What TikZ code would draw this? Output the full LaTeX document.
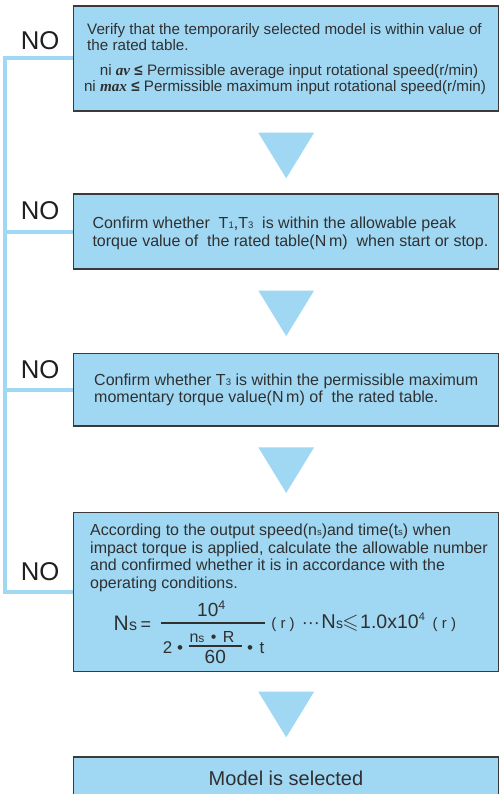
\documentclass[tikz,border=0pt]{standalone}
\usepackage{fontspec}
\usepackage{amssymb}
\setmainfont{Liberation Sans}
\newfontfamily\tnr{Liberation Serif}
\definecolor{boxblue}{RGB}{160,216,244}
\definecolor{bordergray}{RGB}{58,58,58}
\definecolor{txt}{RGB}{48,48,48}
\newcommand{\fs}[1]{\fontsize{#1}{#1}\selectfont}
\newcommand{\sbs}[1]{{\fontsize{9.5}{9.5}\selectfont #1}}
\begin{document}
\begin{tikzpicture}[x=1pt,y=-1pt,
  flowbox/.style={draw=bordergray, line width=1.6pt, fill=boxblue, minimum width=425pt, inner sep=0pt},
  noline/.style={draw=boxblue, line width=4pt},
  nolabel/.style={anchor=base west, inner sep=0pt, font=\fs{25.7}, text=black!88},
  para/.style={anchor=base west, inner sep=0pt, text=txt},
  fm/.style={anchor=base west, inner sep=0pt, text=txt},
  downtri/.pic={\fill[boxblue] (-27.9,0) -- (27.9,0) -- (0,45.6) -- cycle;}
]
\clip (0,0) rectangle (500,794);
\fill[white] (0,0) rectangle (500,794);

% boxes
\node[flowbox, minimum height=105.1pt] (b1) at (286,58.35) {};
\node[flowbox, minimum height=75.1pt] (b2) at (286,231.65) {};
\node[flowbox, minimum height=72.4pt] (b3) at (286,389.7) {};
\node[flowbox, minimum height=159pt] (b4) at (286,592) {};
\node[flowbox, minimum height=73.2pt] (b5) at (286,793.4) {};

% NO feedback lines
\coordinate (c1) at (5.3,58.35);
\coordinate (c2) at (5.3,231.65);
\coordinate (c3) at (5.3,389.7);
\coordinate (c4) at (5.3,592);
\draw[noline] (b1.west) -- (c1) -- (c4) -- (b4.west);
\draw[noline] (b2.west) -- (c2);
\draw[noline] (b3.west) -- (c3);

% NO labels
\node[nolabel] (no1) at (20.7,50) {NO};
\node[nolabel] (no2) at (20.7,219.3) {NO};
\node[nolabel] (no3) at (20.7,378.3) {NO};
\node[nolabel] (no4) at (20.7,580) {NO};

% down triangles
\pic at (286.2,132.7) {downtri};
\pic at (286.2,290.5) {downtri};
\pic at (286.2,447.3) {downtri};
\pic at (286.2,691.7) {downtri};

% box 1 text
\node[para, font=\fs{15.2}] (t1a) at (87,35) {Verify that the temporarily selected model is within value of};
\node[para, font=\fs{15.2}] (t1b) at (87,51) {the rated table.};
\node[para, font=\fs{15.2}, anchor=base] (t1c) at (289,76) {ni {\tnr\bfseries\itshape av} {\bfseries ≤} Permissible average input rotational speed(r/min)};
\node[para, font=\fs{15.2}, anchor=base] (t1d) at (285,92) {ni {\tnr\bfseries\itshape max} {\bfseries ≤} Permissible maximum input rotational speed(r/min)};

% box 2 text
\node[para, font=\fs{16}] (t2a) at (92.3,228.3) {Confirm whether\ \ T\sbs{1},T\sbs{3}\ \ is within the allowable peak};
\node[para, font=\fs{16}] (t2b) at (92.3,246.7) {torque value of\ \ the rated table(N\,m)\ \ when start or stop.};

% box 3 text
\node[para, font=\fs{16}] (t3a) at (94,385) {Confirm whether T\sbs{3} is within the permissible maximum};
\node[para, font=\fs{16}] (t3b) at (94,402.7) {momentary torque value(N\,m) of\ \ the rated table.};

% box 4 text
\node[para, font=\fs{16}] (t4a) at (90,535) {According to the output speed(n\sbs{s})and time(t\sbs{s}) when};
\node[para, font=\fs{16}] (t4b) at (90,553.3) {impact torque is applied, calculate the allowable number};
\node[para, font=\fs{16}] (t4c) at (90,570.7) {and confirmed whether it is in accordance with the};
\node[para, font=\fs{16}] (t4d) at (90,588.3) {operating conditions.};

% formula
\node[fm, font=\fs{21}] (fN) at (113.3,630.7) {N};
\node[fm, font=\fs{16}] (fNs) at (fN.base east) {s};
\node[fm, font=\fs{18}] (feq) at (140.5,630.7) {=};
\draw[txt, line width=1.8pt] (160.7,623.3) -- (265,623.3);
\node[fm, font=\fs{19}] (fnum) at (197,616.7) {10\raisebox{7pt}{\fs{12.5}4}};
\node[fm, font=\fs{17}] (fd2) at (162.7,653) {2};
\node[fm, font=\fs{17}, anchor=base] (fdb1) at (180,653) {•};
\node[fm, font=\fs{16}] (fin) at (189.3,642.7) {n{\fs{12}s}\hspace{6.5pt}•\hspace{6.5pt}R};
\draw[txt, line width=1.5pt] (189,646) -- (242,646);
\node[fm, font=\fs{19}] (f60) at (204.5,663.3) {60};
\node[fm, font=\fs{17}, anchor=base] (fdb2) at (250,653) {•};
\node[fm, font=\fs{17}] (ft) at (259.5,653) {t};
\node[fm, font=\fs{15}] (fr1) at (271.2,628.3) {( r )};
\node[fm, font=\fs{18}] (fdots) at (301.7,628.3) {···};
\node[fm, font=\fs{20}] (fN2) at (321.2,628.3) {N};
\node[fm, font=\fs{14}] (fs2) at (fN2.base east) {s};
\node[fm, font=\fs{21}] (fle) at (342.2,628.3) {$\leqslant$};
\node[fm, font=\fs{19.5}] (fval) at (360,628.3) {1.0x10\raisebox{8pt}{\fs{11}4}};
\node[fm, font=\fs{15}] (fr2) at (432.5,628.3) {( r )};

% box 5 text
\node[para, font=\fs{20}, anchor=base] (t5) at (286,785) {Model is selected};
\end{tikzpicture}
\end{document}
